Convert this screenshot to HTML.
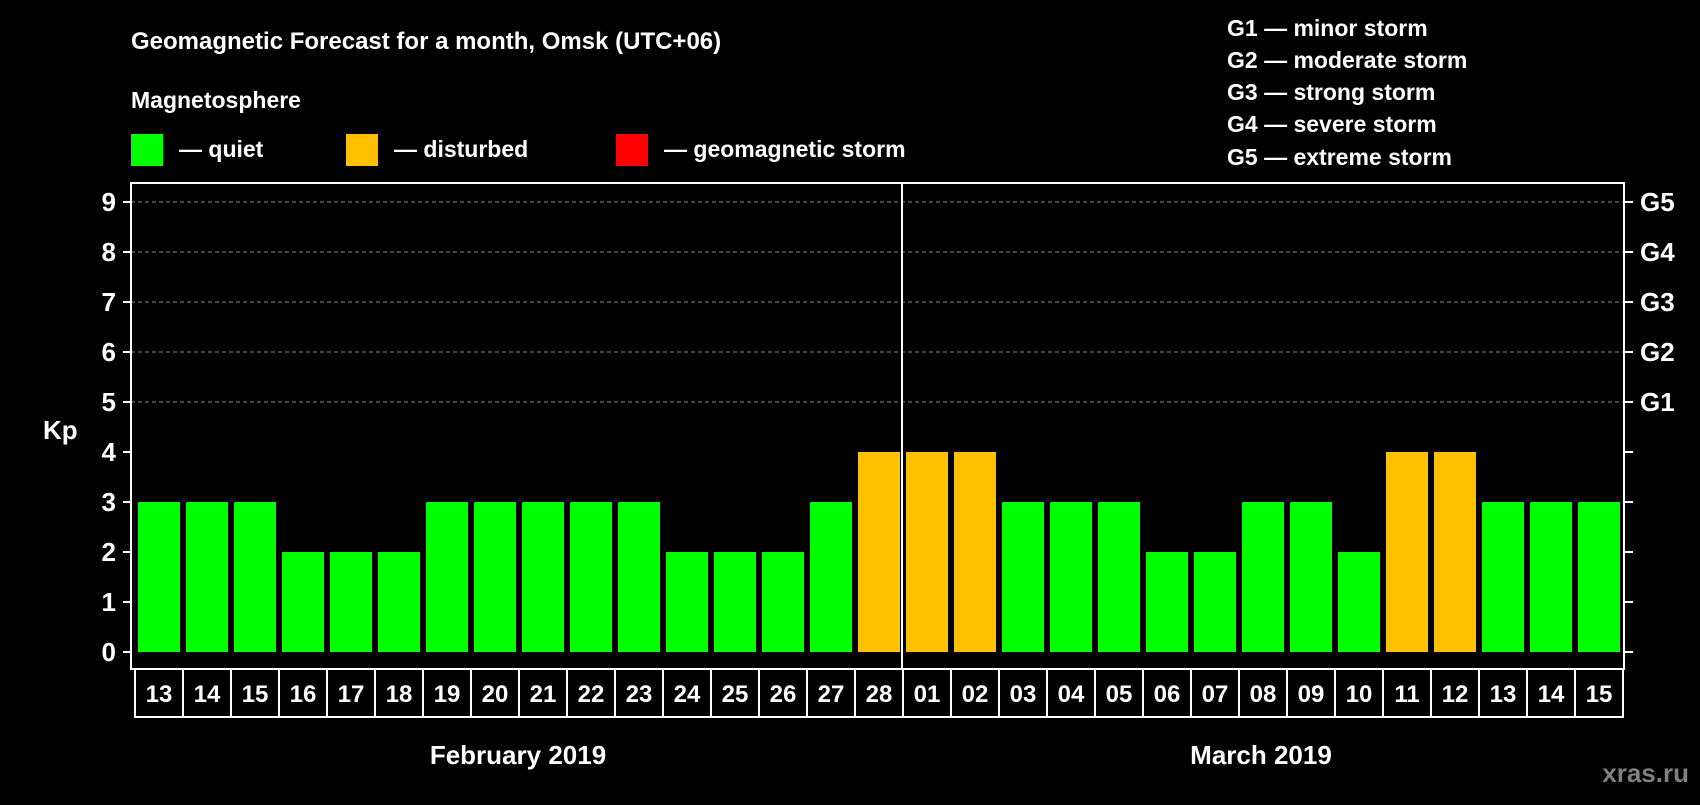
<!DOCTYPE html>
<html><head><meta charset="utf-8"><style>
body{margin:0;background:#000;}
svg text{font-family:"Liberation Sans",Arial,sans-serif;font-weight:bold;fill:#fff;}
</style></head><body>
<svg id="chart" width="1700" height="800" xmlns="http://www.w3.org/2000/svg">
<rect width="1700" height="800" fill="#000"/>
<text x="131" y="49" font-size="24">Geomagnetic Forecast for a month, Omsk (UTC+06)</text>
<text x="131" y="108" font-size="23">Magnetosphere</text>
<g><rect x="131" y="134" width="32" height="32" fill="#00ff00"/><text x="179" y="157" font-size="23">— quiet</text></g>
<g><rect x="346" y="134" width="32" height="32" fill="#ffc000"/><text x="394" y="157" font-size="23">— disturbed</text></g>
<g><rect x="616" y="134" width="32" height="32" fill="#ff0000"/><text x="664" y="157" font-size="23">— geomagnetic storm</text></g>
<g font-size="23">
<text x="1227" y="36">G1 — minor storm</text>
<text x="1227" y="68">G2 — moderate storm</text>
<text x="1227" y="100">G3 — strong storm</text>
<text x="1227" y="132">G4 — severe storm</text>
<text x="1227" y="165">G5 — extreme storm</text>
</g>
<text x="43" y="439" font-size="26">Kp</text>
<g id="grid"></g><g id="bars"></g><g id="axes"></g><g id="dates"></g>
<text x="518" y="764" font-size="26" text-anchor="middle">February 2019</text>
<text x="1261" y="764" font-size="26" text-anchor="middle">March 2019</text>
<text x="1689" y="782" font-size="26" text-anchor="end" style="fill:#808080">xras.ru</text>
</svg>
<script>
const days = ["13","14","15","16","17","18","19","20","21","22","23","24","25","26","27","28","01","02","03","04","05","06","07","08","09","10","11","12","13","14","15"];
const kpValues = [3,3,3,2,2,2,3,3,3,3,3,2,2,2,3,4,4,4,3,3,3,2,2,3,3,2,4,4,3,3,3];
const yTicks = [0,1,2,3,4,5,6,7,8,9];
const gLabels = ["G1","G2","G3","G4","G5"];
const monthSplit = 16;
const NS="http://www.w3.org/2000/svg";
const L=131,R=1624,T=183,B=669,Y0=652,U=50,X0=138,P=48,BW=42,DX=135;
const y=v=>Y0-v*U, x=i=>X0+i*P;
function mk(tag,attrs,parent){const e=document.createElementNS(NS,tag);for(const k in attrs)e.setAttribute(k,attrs[k]);parent.appendChild(e);return e;}
const grid=document.getElementById('grid'),bars=document.getElementById('bars'),axes=document.getElementById('axes'),dates=document.getElementById('dates');
yTicks.forEach(v=>{
  if(v>=5){const g=mk('line',{x1:L,x2:R,y1:y(v),y2:y(v),stroke:'#888','stroke-dasharray':'4,3','stroke-width':1},grid);
  
  }
  const t=mk('line',{x1:L-8,x2:L,y1:y(v),y2:y(v),stroke:'#fff','stroke-width':2},axes);
  
  
  const t2=mk('line',{x1:R,x2:R+9,y1:y(v),y2:y(v),stroke:'#fff','stroke-width':2},axes);
  
  
  const lb=mk('text',{x:116,y:y(v)+9,'font-size':26,'text-anchor':'end'},axes);lb.textContent=v;
  
  
  if(v>=5){const gl=mk('text',{x:1640,y:y(v)+9,'font-size':26},axes);gl.textContent=gLabels[v-5];
  
  }
});
kpValues.forEach((v,i)=>{
  const r=mk('rect',{x:x(i),y:y(v),width:BW,height:v*U,fill:v>=5?'#ff0000':(v>=4?'#ffc000':'#00ff00')},bars);
  
  
});
const fr=mk('rect',{x:L,y:T,width:R-L,height:B-T,fill:'none',stroke:'#fff','stroke-width':2},axes);


const dv=mk('line',{x1:x(monthSplit)-4,x2:x(monthSplit)-4,y1:T,y2:B,stroke:'#fff','stroke-width':2},axes);


days.forEach((d,i)=>{
  const c=mk('rect',{x:DX+i*P,y:B,width:P,height:48,fill:'none',stroke:'#fff','stroke-width':2},dates);
  
  
  const t=mk('text',{x:DX+i*P+P/2,y:B+33,'font-size':24,'text-anchor':'middle'},dates);t.textContent=d;
  
  
});
</script>
</body></html>
